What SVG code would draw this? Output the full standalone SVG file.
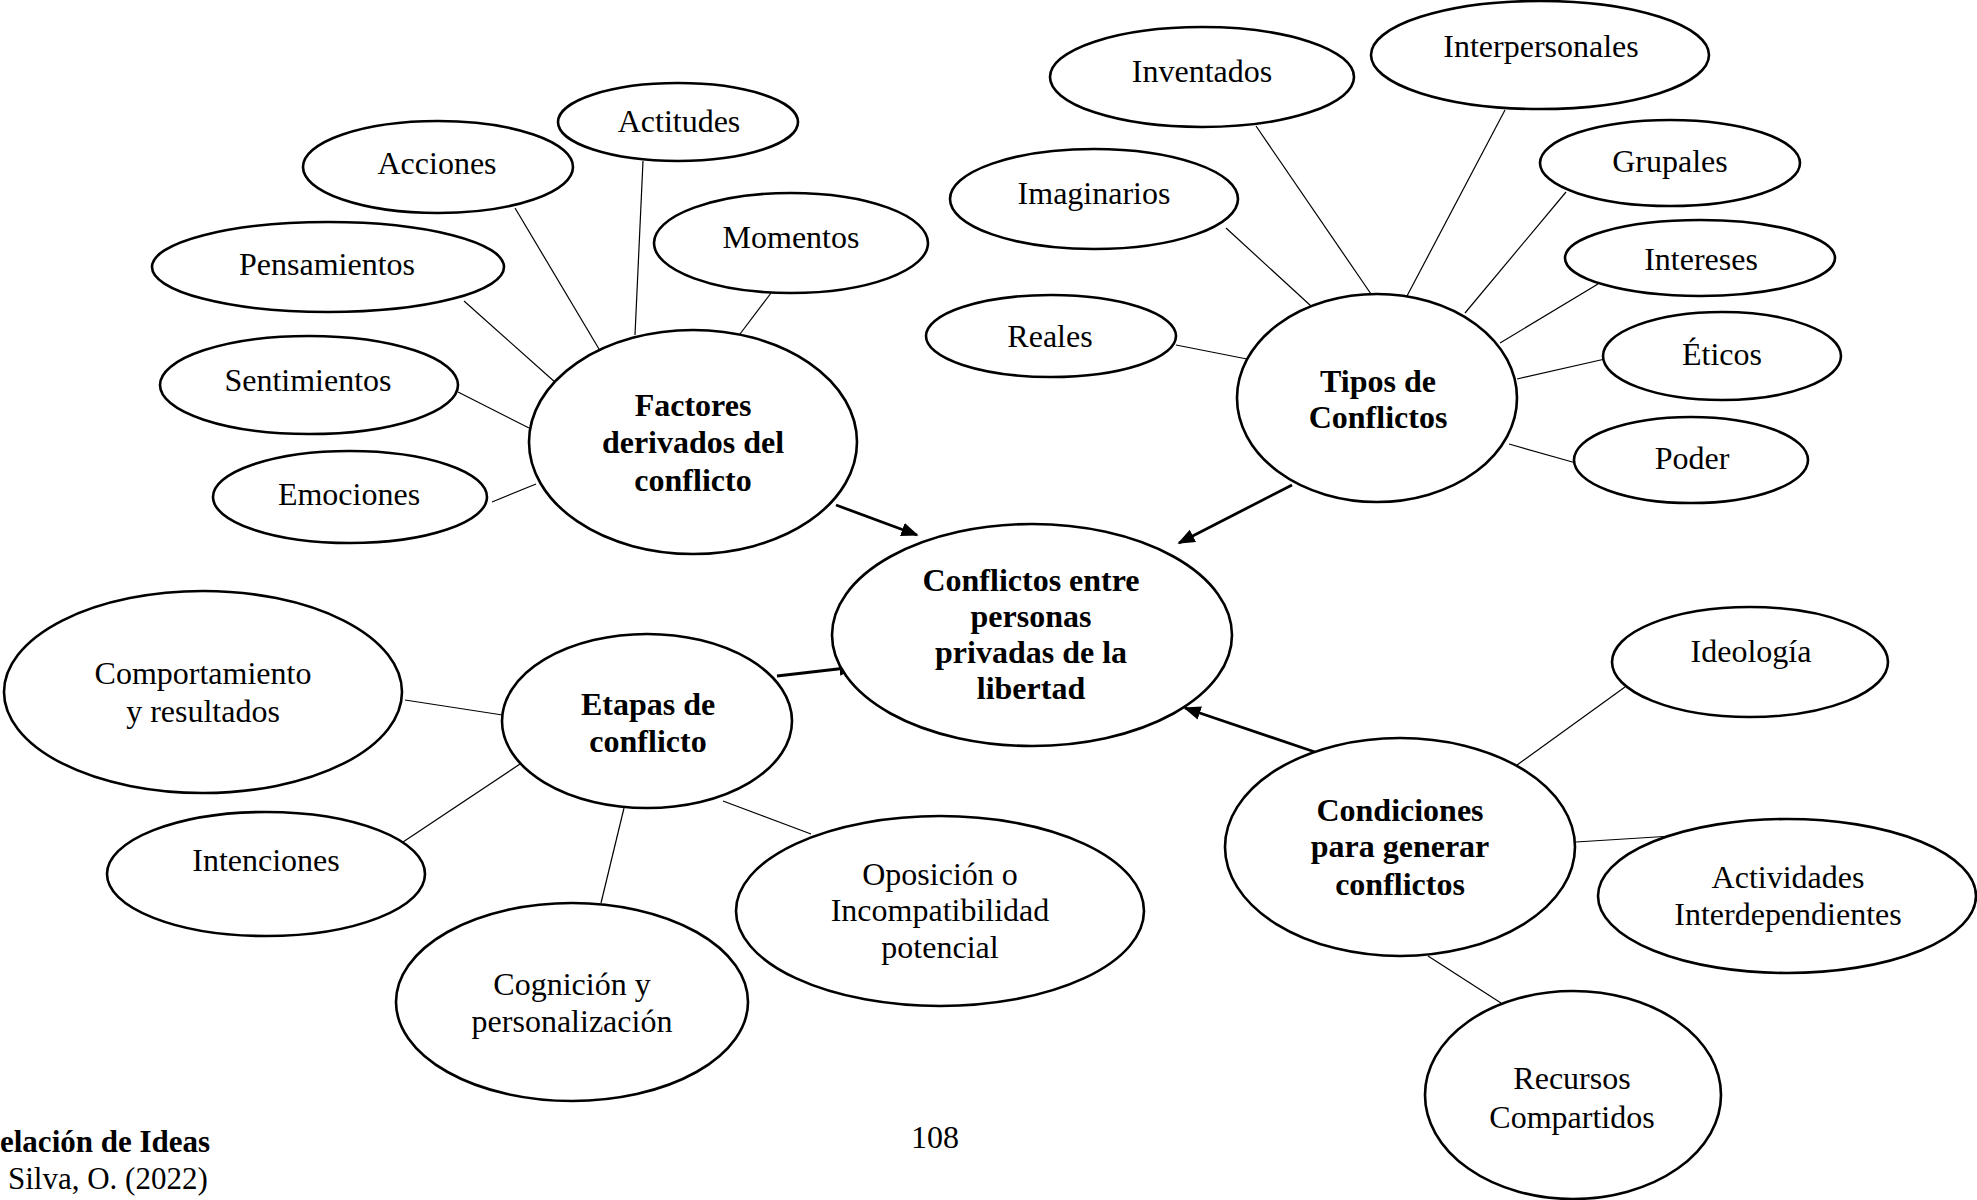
<svg xmlns="http://www.w3.org/2000/svg" width="1977" height="1200" viewBox="0 0 1977 1200">
<defs>
<style>
.n{fill:#fff;stroke:#000;stroke-width:2.6}
.t{font-family:"Liberation Serif","Times New Roman",serif;font-size:32px;text-anchor:middle;fill:#000}
.b{font-weight:bold}
.c{stroke:#000;stroke-width:1.2;fill:none}
.a{stroke:#000;stroke-width:2.8;fill:none;marker-end:url(#ah)}
.f{text-anchor:start;font-size:31px}
</style>
<marker id="ah" viewBox="0 0 10 10" refX="9" refY="5" markerWidth="6.2" markerHeight="6.2" orient="auto" markerUnits="strokeWidth">
<path d="M0,1 L10,5 L0,9 z" fill="#000"/>
</marker>
</defs>
<rect width="1977" height="1200" fill="#fff"/>
<g id="connectors">
<line class="c" x1="515" y1="208" x2="599" y2="349"/>
<line class="c" x1="643" y1="161" x2="635" y2="335"/>
<line class="c" x1="464" y1="301" x2="556" y2="383"/>
<line class="c" x1="771" y1="293" x2="740" y2="334"/>
<line class="c" x1="458" y1="392" x2="529" y2="428"/>
<line class="c" x1="492" y1="502" x2="536" y2="484"/>
<line class="c" x1="1256" y1="126" x2="1371" y2="294"/>
<line class="c" x1="1505" y1="110" x2="1407" y2="296"/>
<line class="c" x1="1226" y1="228" x2="1311" y2="306"/>
<line class="c" x1="1566" y1="192" x2="1465" y2="313"/>
<line class="c" x1="1598" y1="284" x2="1500" y2="343"/>
<line class="c" x1="1176" y1="345" x2="1247" y2="359"/>
<line class="c" x1="1605" y1="359" x2="1517" y2="379"/>
<line class="c" x1="1509" y1="444" x2="1576" y2="463"/>
<line class="c" x1="405" y1="700" x2="509" y2="716"/>
<line class="c" x1="403" y1="842" x2="520" y2="764"/>
<line class="c" x1="601" y1="903" x2="624" y2="808"/>
<line class="c" x1="811" y1="834" x2="723" y2="801"/>
<line class="c" x1="1625" y1="687" x2="1517" y2="765"/>
<line class="c" x1="1576" y1="842" x2="1672" y2="836"/>
<line class="c" x1="1428" y1="956" x2="1501" y2="1003"/>
<line class="a" x1="836" y1="505" x2="917" y2="535"/>
<line class="a" x1="1292" y1="485" x2="1179" y2="543"/>
<line class="a" x1="777" y1="676" x2="855" y2="667"/>
<line class="a" x1="1315" y1="752" x2="1185" y2="708"/>
</g>
<g id="center"><ellipse class="n" cx="1032" cy="635" rx="200" ry="111"/>
<text class="t b" x="1031" y="591">Conflictos entre</text>
<text class="t b" x="1031" y="627">personas</text>
<text class="t b" x="1031" y="663">privadas de la</text>
<text class="t b" x="1031" y="699">libertad</text></g>
<g id="factores"><ellipse class="n" cx="693" cy="442" rx="164" ry="112"/>
<text class="t b" x="693" y="416">Factores</text>
<text class="t b" x="693" y="453">derivados del</text>
<text class="t b" x="693" y="491">conflicto</text></g>
<g id="actitudes"><ellipse class="n" cx="678" cy="122" rx="120" ry="39"/><text class="t" x="679" y="132">Actitudes</text></g>
<g id="acciones"><ellipse class="n" cx="438" cy="167" rx="135" ry="46"/><text class="t" x="437" y="174">Acciones</text></g>
<g id="pensamientos"><ellipse class="n" cx="328" cy="267" rx="176" ry="45"/><text class="t" x="327" y="275">Pensamientos</text></g>
<g id="momentos"><ellipse class="n" cx="791" cy="243" rx="137" ry="50"/><text class="t" x="791" y="248">Momentos</text></g>
<g id="sentimientos"><ellipse class="n" cx="309" cy="385" rx="149" ry="49"/><text class="t" x="308" y="391">Sentimientos</text></g>
<g id="emociones"><ellipse class="n" cx="350" cy="497" rx="137" ry="46"/><text class="t" x="349" y="505">Emociones</text></g>
<g id="tipos"><ellipse class="n" cx="1377" cy="398" rx="140" ry="104"/>
<text class="t b" x="1378" y="392">Tipos de</text>
<text class="t b" x="1378" y="428">Conflictos</text></g>
<g id="inventados"><ellipse class="n" cx="1202" cy="77" rx="152" ry="50"/><text class="t" x="1202" y="82">Inventados</text></g>
<g id="interpersonales"><ellipse class="n" cx="1540" cy="55" rx="169" ry="54"/><text class="t" x="1541" y="57">Interpersonales</text></g>
<g id="imaginarios"><ellipse class="n" cx="1094" cy="199" rx="144" ry="50"/><text class="t" x="1094" y="204">Imaginarios</text></g>
<g id="grupales"><ellipse class="n" cx="1670" cy="163" rx="130" ry="43"/><text class="t" x="1670" y="172">Grupales</text></g>
<g id="intereses"><ellipse class="n" cx="1700" cy="258" rx="135" ry="38"/><text class="t" x="1701" y="270">Intereses</text></g>
<g id="reales"><ellipse class="n" cx="1051" cy="336" rx="125" ry="41"/><text class="t" x="1050" y="347">Reales</text></g>
<g id="eticos"><ellipse class="n" cx="1722" cy="356" rx="119" ry="44"/><text class="t" x="1722" y="365">Éticos</text></g>
<g id="poder"><ellipse class="n" cx="1691" cy="460" rx="117" ry="43"/><text class="t" x="1692" y="469">Poder</text></g>
<g id="etapas"><ellipse class="n" cx="647" cy="721" rx="145" ry="87"/>
<text class="t b" x="648" y="715">Etapas de</text>
<text class="t b" x="648" y="752">conflicto</text></g>
<g id="comportamiento"><ellipse class="n" cx="203" cy="692" rx="199" ry="101"/>
<text class="t" x="203" y="684">Comportamiento</text>
<text class="t" x="203" y="722">y resultados</text></g>
<g id="intenciones"><ellipse class="n" cx="266" cy="874" rx="159" ry="62"/><text class="t" x="266" y="871">Intenciones</text></g>
<g id="cognicion"><ellipse class="n" cx="572" cy="1002" rx="176" ry="99"/>
<text class="t" x="572" y="995">Cognición y</text>
<text class="t" x="572" y="1032">personalización</text></g>
<g id="oposicion"><ellipse class="n" cx="940" cy="911" rx="204" ry="95"/>
<text class="t" x="940" y="885">Oposición o</text>
<text class="t" x="940" y="921">Incompatibilidad</text>
<text class="t" x="940" y="958">potencial</text></g>
<g id="condiciones"><ellipse class="n" cx="1400" cy="847" rx="175" ry="109"/>
<text class="t b" x="1400" y="821">Condiciones</text>
<text class="t b" x="1400" y="857">para generar</text>
<text class="t b" x="1400" y="895">conflictos</text></g>
<g id="ideologia"><ellipse class="n" cx="1750" cy="662" rx="138" ry="55"/><text class="t" x="1751" y="662">Ideología</text></g>
<g id="actividades"><ellipse class="n" cx="1787" cy="896" rx="189" ry="77"/>
<text class="t" x="1788" y="888">Actividades</text>
<text class="t" x="1788" y="925">Interdependientes</text></g>
<g id="recursos"><ellipse class="n" cx="1573" cy="1095" rx="148" ry="104"/>
<text class="t" x="1572" y="1089">Recursos</text>
<text class="t" x="1572" y="1128">Compartidos</text></g>
<g id="footer">
<text class="t" x="935" y="1148">108</text>
<text class="t b f" x="0" y="1152">elación de Ideas</text>
<text class="t f" x="8" y="1189">Silva, O. (2022)</text>
</g>
</svg>
